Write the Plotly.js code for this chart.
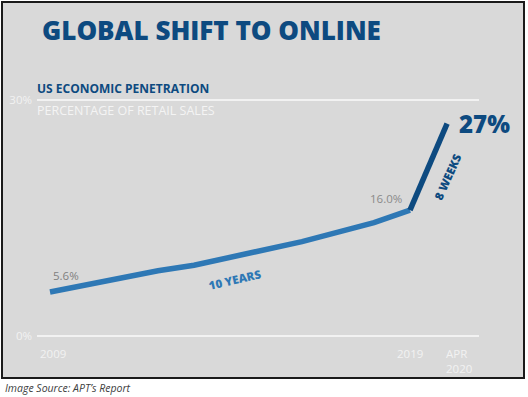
<!DOCTYPE html>
<html>
<head>
<meta charset="utf-8">
<script src="https://cdn.plot.ly/plotly-3.0.1.min.js"></script>
<style>html,body{margin:0;padding:0;background:#fff;}#chart{width:528px;height:397px;}</style>
</head>
<body>
<div id="chart"></div>
<script>
// ---- data ----
const years = [2009, 2010, 2011, 2012, 2013, 2014, 2015, 2016, 2017, 2018, 2019];
const penetration = [5.6, 6.5, 7.5, 8.3, 9.0, 10.0, 11.0, 12.0, 13.2, 14.4, 16.0];
const surgeX = [2019, 2020.03];
const surgeY = [16.0, 27.0];
const yTickVals = [0, 30];
const yTickText = ['0%', '30%'];
const xLabelVals = [2009, 2019, 2020.03];
const xLabelText = ['2009', '2019', 'APR<br>2020'];
const valueLabels = ['5.6%', '16.0%', '27%'];

const W = 528, H = 397;
const px = v => v / W;
const py = v => 1 - v / H;

const FONT = 'Open Sans, sans-serif';
const NAVY = '#0d4a80';
const BLUE = '#2e78b5';

const traces = [
  {x: years, y: penetration, mode: 'lines', line: {color: BLUE, width: 5.5}, hoverinfo: 'skip'},
  {x: surgeX, y: surgeY, mode: 'lines', line: {color: NAVY, width: 5.5}, hoverinfo: 'skip'}
];

const annotations = [
  {xref: 'paper', yref: 'paper', x: px(40), y: py(30), xanchor: 'left', yanchor: 'middle', showarrow: false,
   text: 'GLOBAL SHIFT TO ONLINE', font: {family: FONT, size: 26, color: NAVY, weight: 800}},
  {xref: 'paper', yref: 'paper', x: px(35), y: py(88), xanchor: 'left', yanchor: 'middle', showarrow: false,
   text: 'US ECONOMIC PENETRATION', font: {family: FONT, size: 12, color: NAVY, weight: 700}},
  {xref: 'paper', yref: 'paper', x: px(35), y: py(110), xanchor: 'left', yanchor: 'middle', showarrow: false,
   text: 'PERCENTAGE OF RETAIL SALES', font: {family: FONT, size: 12.5, color: '#f4f4f4'}},
  {xref: 'x', yref: 'y', x: years[0], y: penetration[0], xanchor: 'left', yanchor: 'middle', xshift: 1, yshift: 16, showarrow: false,
   text: valueLabels[0], font: {family: FONT, size: 11.5, color: '#808080'}},
  {xref: 'x', yref: 'y', x: surgeX[0], y: surgeY[0], xanchor: 'right', yanchor: 'middle', xshift: -6, yshift: 12, showarrow: false,
   text: valueLabels[1], font: {family: FONT, size: 11.5, color: '#8a8a8a'}},
  {xref: 'x', yref: 'y', x: surgeX[1], y: surgeY[1], xanchor: 'left', yanchor: 'middle', xshift: 10, yshift: 0, showarrow: false,
   text: valueLabels[2], font: {family: FONT, size: 24, color: NAVY, weight: 800}},
  {xref: 'paper', yref: 'paper', x: px(235), y: py(279), xanchor: 'center', yanchor: 'middle', showarrow: false, textangle: -13,
   text: '10 YEARS', font: {family: FONT, size: 11.5, color: BLUE, weight: 800}},
  {xref: 'paper', yref: 'paper', x: px(447), y: py(177), xanchor: 'center', yanchor: 'middle', showarrow: false, textangle: -66,
   text: '8 WEEKS', font: {family: FONT, size: 11.5, color: NAVY, weight: 800}},
  {xref: 'paper', yref: 'paper', x: px(3), y: py(388), xanchor: 'left', yanchor: 'middle', showarrow: false,
   text: '<i>Image Source: APT\u2019s Report</i>', font: {family: FONT, size: 10.5, color: '#404040'}}
];

// x-axis labels
const xShift = [3, 0, -3];
const xAnch = ['center', 'center', 'left'];
xLabelVals.forEach((v, i) => {
  annotations.push({xref: 'x', yref: 'paper', x: v, y: py(344), xanchor: xAnch[i], yanchor: 'top', xshift: xShift[i],
    showarrow: false, align: 'left', text: xLabelText[i], font: {family: FONT, size: 11.5, color: '#f2f2f2'}});
});

// axis mapping: x 2009 -> px 50, 36 px / year; y 0 -> py 336, 30 -> py 100
const pxPerYear = 36;
const x0px = 37, x1px = 479;
const xr = [2009 - (50 - x0px) / pxPerYear, 2009 + (x1px - 50) / pxPerYear];
const pxPerPct = (336 - 100) / 30;
const yr = [-(H - 336) / pxPerPct, 336 / pxPerPct];

const layout = {
  width: W, height: H,
  margin: {l: 0, r: 0, t: 0, b: 0},
  paper_bgcolor: '#ffffff',
  plot_bgcolor: 'rgba(0,0,0,0)',
  showlegend: false,
  xaxis: {domain: [px(x0px), px(x1px)], range: xr, showgrid: false, zeroline: false, showticklabels: false, ticks: '', showline: false, fixedrange: true},
  yaxis: {domain: [0, 1], range: yr, tickvals: yTickVals, ticktext: yTickText, showgrid: true, gridcolor: '#f2f2f2', gridwidth: 1.5,
          zeroline: false, showline: false, ticks: '', ticklabelstandoff: 4,
          tickfont: {family: FONT, size: 11.5, color: '#f2f2f2'}, fixedrange: true},
  shapes: [
    {type: 'rect', xref: 'paper', yref: 'paper', x0: px(2), x1: px(524), y0: py(378), y1: py(2),
     fillcolor: '#d9d9d9', line: {color: '#1a1a1a', width: 2}, layer: 'below'}
  ],
  annotations: annotations
};

Plotly.newPlot('chart', traces, layout, {displayModeBar: false, staticPlot: true});
</script>
</body>
</html>
